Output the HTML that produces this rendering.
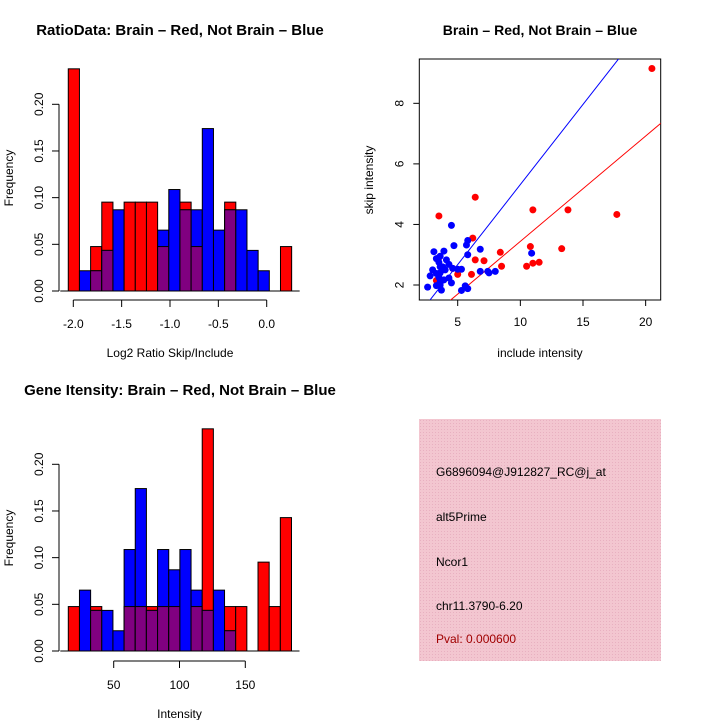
<!DOCTYPE html>
<html><head><meta charset="utf-8"><style>
html,body{margin:0;padding:0;background:#fff;}
svg{display:block;font-family:"Liberation Sans",sans-serif;}
</style></head><body>
<svg id="c" width="720" height="720" viewBox="0 0 720 720">
<defs>
<pattern id="hatch" width="3" height="3" patternUnits="userSpaceOnUse">
<rect width="3" height="3" fill="#f3c6d0"/><rect width="1" height="1" fill="#e8b0c0"/>
</pattern>
</defs>
<text x="180" y="35" text-anchor="middle" font-size="15" font-weight="bold">RatioData: Brain – Red, Not Brain – Blue</text>
<text x="540" y="35" text-anchor="middle" font-size="14" font-weight="bold">Brain – Red, Not Brain – Blue</text>
<text x="180" y="395" text-anchor="middle" font-size="15" font-weight="bold">Gene Itensity: Brain – Red, Not Brain – Blue</text>
<g id="h1"></g>
<g id="h2"></g>
<g id="sc"></g>
<g>
<rect x="419" y="419" width="242" height="242" fill="url(#hatch)"/>
<text x="436" y="476" font-size="12">G6896094@J912827_RC@j_at</text>
<text x="436" y="521" font-size="12">alt5Prime</text>
<text x="436" y="566" font-size="12">Ncor1</text>
<text x="436" y="610" font-size="12">chr11.3790-6.20</text>
<text x="436" y="643" font-size="12" fill="#a00000">Pval: 0.000600</text>
</g>
</svg>
<script>
// Ratio histogram data
const ratioRed = [0.238,0,0.0476,0.0952,0,0.0952,0.0952,0.0952,0.0476,0,0.0952,0.0476,0,0,0.0952,0,0,0,0,0.0476];
const ratioBlue = [0,0.0217,0.0217,0.0435,0.087,0,0,0,0.0652,0.1087,0.087,0.087,0.174,0.0652,0.087,0.087,0.0435,0.0217,0,0];
const ratioTicks = [-2.0,-1.5,-1.0,-0.5,0.0];
const ratioTickLabels = ["-2.0","-1.5","-1.0","-0.5","0.0"];
// Intensity histogram data
const intRed = [0.0476,0,0.0476,0,0,0.0476,0.0476,0.0476,0.0476,0.0476,0,0.0476,0.238,0,0.0476,0.0476,0,0.0952,0.0476,0.1429];
const intBlue = [0,0.0652,0.0435,0.0435,0.0217,0.1087,0.174,0.0435,0.1087,0.087,0.1087,0.0652,0.0435,0.0652,0.0217,0,0,0,0,0];
const intTicks = [50,100,150];
const intTickLabels = ["50","100","150"];
const freqTicks = [0,0.05,0.10,0.15,0.20];
const freqTickLabels = ["0.00","0.05","0.10","0.15","0.20"];
// Scatter data
const redX = [20.5,6.4,3.5,11,13.8,17.7,6.2,10.8,8.4,13.3,6.4,7.1,11,11.5,8.5,10.5,6.1,5.0,4.6,3.3,3.5];
const redY = [9.15,4.9,4.28,4.48,4.48,4.33,3.55,3.27,3.08,3.2,2.83,2.8,2.72,2.75,2.62,2.62,2.35,2.35,2.55,2.15,2.9];
const blueX = [4.5,4.7,5.8,5.7,6.8,5.8,3.1,3.9,3.3,3.6,3.5,4.1,4.3,3.8,3.0,5.0,5.3,3.3,3.6,2.8,4.0,3.5,3.9,4.3,3.6,4.5,3.3,3.6,2.6,5.6,5.8,5.3,3.7,6.8,7.5,7.4,8.0,10.9,4.6,3.6];
const blueY = [3.97,3.3,3.47,3.32,3.18,3.0,3.1,3.12,2.87,2.95,2.75,2.83,2.68,2.6,2.5,2.52,2.52,2.38,2.4,2.3,2.5,2.25,2.17,2.23,2.1,2.07,1.98,2.0,1.93,1.97,1.88,1.82,1.83,2.45,2.4,2.45,2.45,3.05,2.55,2.6];
const redSlope = 0.348, redIntercept = -0.04;
const blueSlope = 0.529, blueIntercept = 0.029;
const scXTicks = [5,10,15,20];
const scYTicks = [2,4,6,8];

const NS = "http://www.w3.org/2000/svg";
function mk(parent, tag, attrs) {
  const e = document.createElementNS(NS, tag);
  for (const k in attrs) e.setAttribute(k, attrs[k]);
  parent.appendChild(e);
  return e;
}

function hist(g, red, blue, x0, bw, xScale, yScale, ticks, tickLabels, xlabel, ylabelY, axisY, leftAxisX, name) {
  const n = red.length;
  const barX = i => xScale(x0 + i * bw);
  const w = xScale(x0 + bw) - xScale(x0);
  for (let i = 0; i < n; i++) {
    const r = red[i], b = blue[i];
    if (r > 0) {
      const e = mk(g, "rect", {x: barX(i), y: yScale(r), width: w, height: yScale(0) - yScale(r), fill: "#ff0000", stroke: "#000", "stroke-width": 1});
      
      
    }
    if (b > 0) {
      const e = mk(g, "rect", {x: barX(i), y: yScale(b), width: w, height: yScale(0) - yScale(b), fill: "#0000ff", stroke: "#000", "stroke-width": 1});
      
      
    }
    if (r > 0 && b > 0) {
      const m = Math.min(r, b);
      const e = mk(g, "rect", {x: barX(i), y: yScale(m), width: w, height: yScale(0) - yScale(m), fill: "#800080", stroke: "#000", "stroke-width": 1});
      
      
    }
  }
  const base = mk(g, "line", {x1: xScale(x0) - 8, x2: xScale(x0 + n * bw) + 8, y1: yScale(0), y2: yScale(0), stroke: "#000"});
  
  
  const xa = mk(g, "g", {});
  
  
  mk(xa, "line", {x1: xScale(ticks[0]), x2: xScale(ticks[ticks.length - 1]), y1: axisY, y2: axisY, stroke: "#000"});
  ticks.forEach((t, i) => {
    mk(xa, "line", {x1: xScale(t), x2: xScale(t), y1: axisY, y2: axisY + 7, stroke: "#000"});
    const tx = mk(xa, "text", {x: xScale(t), y: axisY + 28, "text-anchor": "middle", "font-size": 12});
    tx.textContent = tickLabels[i];
    
    
  });
  const xl = mk(g, "text", {x: (xScale(ticks[0]) + xScale(ticks[ticks.length - 1])) / 2, y: axisY + 57, "text-anchor": "middle", "font-size": 12});
  xl.textContent = xlabel;
  
  
  const ya = mk(g, "g", {});
  
  
  mk(ya, "line", {x1: leftAxisX, x2: leftAxisX, y1: yScale(0), y2: yScale(0.2), stroke: "#000"});
  freqTicks.forEach((t, i) => {
    mk(ya, "line", {x1: leftAxisX, x2: leftAxisX - 7, y1: yScale(t), y2: yScale(t), stroke: "#000"});
    const tx = mk(ya, "text", {x: leftAxisX - 16, y: yScale(t), "text-anchor": "middle", "font-size": 12, transform: `rotate(-90 ${leftAxisX - 16} ${yScale(t)})`});
    tx.textContent = freqTickLabels[i];
    
    
  });
  const yl = mk(g, "text", {x: 13, y: ylabelY, "text-anchor": "middle", "font-size": 12, transform: `rotate(-90 13 ${ylabelY})`});
  yl.textContent = "Frequency";
  
  
}

{
  const xS = v => 73.3 + (v + 2.0) * 96.7;
  const yS = v => 291 - v * 933.5;
  hist(document.getElementById("h1"), ratioRed, ratioBlue, -2.052, 0.1155, xS, yS, ratioTicks, ratioTickLabels, "Log2 Ratio Skip/Include", 178, 300, 59, "ratio");
}
{
  const xS = v => 113.7 + (v - 50) * 1.316;
  const yS = v => 651 - v * 933.5;
  hist(document.getElementById("h2"), intRed, intBlue, 15.5, 8.48, xS, yS, intTicks, intTickLabels, "Intensity", 538, 661, 59, "intensity");
}
{
  const g = document.getElementById("sc");
  const xS = v => 457.7 + (v - 5) * 12.53;
  const yS = v => 285 - (v - 2) * 30.28;
  const L = 419.3, R = 660.7, T = 59, B = 300;
  const clip = mk(g, "clipPath", {id: "scclip"});
  mk(clip, "rect", {x: L, y: T, width: R - L, height: B - T});
  const box = mk(g, "rect", {x: L, y: T, width: R - L, height: B - T, fill: "none", stroke: "#000"});
  
  
  const lines = mk(g, "g", {"clip-path": "url(#scclip)"});
  const xa0 = 0, xa1 = 25;
  const bl = mk(lines, "line", {x1: xS(xa0), y1: yS(blueIntercept + blueSlope * xa0), x2: xS(xa1), y2: yS(blueIntercept + blueSlope * xa1), stroke: "#0000ff", "stroke-width": 1});
  
  
  const rl = mk(lines, "line", {x1: xS(xa0), y1: yS(redIntercept + redSlope * xa0), x2: xS(xa1), y2: yS(redIntercept + redSlope * xa1), stroke: "#ff0000", "stroke-width": 1});
  
  
  redX.forEach((x, i) => {
    const c = mk(g, "circle", {cx: xS(x), cy: yS(redY[i]), r: 3.5, fill: "#ff0000"});
    
    
  });
  blueX.forEach((x, i) => {
    const c = mk(g, "circle", {cx: xS(x), cy: yS(blueY[i]), r: 3.5, fill: "#0000ff"});
    
    
  });
  scXTicks.forEach(t => {
    mk(g, "line", {x1: xS(t), x2: xS(t), y1: B, y2: B + 6, stroke: "#000"});
    const tx = mk(g, "text", {x: xS(t), y: B + 26, "text-anchor": "middle", "font-size": 12});
    tx.textContent = String(t);
    
    
  });
  scYTicks.forEach(t => {
    mk(g, "line", {x1: L, x2: L - 6, y1: yS(t), y2: yS(t), stroke: "#000"});
    const tx = mk(g, "text", {x: L - 16, y: yS(t), "text-anchor": "middle", "font-size": 12, transform: `rotate(-90 ${L - 16} ${yS(t)})`});
    tx.textContent = String(t);
    
    
  });
  const xl = mk(g, "text", {x: 540, y: 357, "text-anchor": "middle", "font-size": 12});
  xl.textContent = "include intensity";
  
  
  const yl = mk(g, "text", {x: 373, y: 180, "text-anchor": "middle", "font-size": 12, transform: "rotate(-90 373 180)"});
  yl.textContent = "skip intensity";
  
  
}
</script>
</body></html>
